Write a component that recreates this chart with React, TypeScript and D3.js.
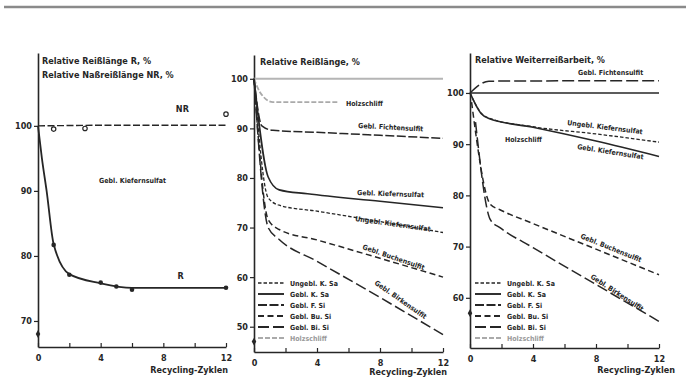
import React, { useEffect, useRef } from 'react'
import * as d3 from 'd3'

const FONT = "'Liberation Sans Narrow', 'DejaVu Sans Condensed', 'Liberation Sans', sans-serif"
const INK = '#262626'

// ---------- panel 1: Relative Reißlänge / Naßreißlänge (Gebl. Kiefernsulfat) ----------
const p1RX = [0, 0.25, 0.55, 1, 2, 4, 6, 12]
const p1RY = [100, 95, 90, 81.8, 77.2, 75.8, 75.1, 75.1]
const p1RMarkX = [1, 2, 4, 5, 6, 12]
const p1RMarkY = [81.7, 77.1, 75.9, 75.3, 74.8, 75.1]
const p1NRX = [0, 4, 8, 12]
const p1NRY = [100, 100.1, 100.1, 100.1]
const p1NRMarkX = [1, 3, 12]
const p1NRMarkY = [99.5, 99.6, 101.8]

// ---------- panel 2: Relative Reißlänge ----------
const p2HolzX = [0, 0.4, 1.2, 5.4]
const p2HolzY = [100, 97.2, 95.3, 95.3]
const p2FichtX = [0, 0.5, 1.2, 4, 8, 12]
const p2FichtY = [100, 90.5, 89.6, 89.2, 88.6, 88]
const p2KiefX = [0, 0.9, 1.6, 3.4, 8, 12]
const p2KiefY = [100, 80.2, 77.6, 76.8, 75.3, 74]
const p2UngX = [0, 0.9, 1.6, 4, 8, 12]
const p2UngY = [100, 76, 74.5, 73.3, 71.2, 69]
const p2BuchX = [0, 0.9, 1.6, 4, 8, 12]
const p2BuchY = [100, 71.6, 69.6, 67.5, 63.8, 60]
const p2BirkX = [0, 0.9, 1.6, 4, 8, 12]
const p2BirkY = [100, 70, 67.6, 63.2, 55.9, 48.4]

// ---------- panel 3: Relative Weiterreißarbeit ----------
const p3FichtX = [0, 0.6, 1.2, 12]
const p3FichtY = [100, 101.6, 102.3, 102.4]
const p3UngX = [0, 0.7, 1.2, 4, 8, 12]
const p3UngY = [100, 96.1, 95.1, 93.4, 92, 90.4]
const p3KiefX = [0, 0.7, 1.2, 4, 8, 12]
const p3KiefY = [100, 96, 95, 93.3, 90.6, 87.6]
const p3BuchX = [0.1, 1.3, 1.9, 4, 8, 12]
const p3BuchY = [98.2, 78.2, 77.2, 74.5, 69.5, 64.5]
const p3BirkX = [0.35, 1.3, 1.9, 4, 8, 12]
const p3BirkY = [94.3, 75.2, 73.7, 69.8, 62.6, 55.4]

const xTicks = [0, 2, 4, 6, 8, 10, 12]
const legendLabels = ['Ungebl. K. Sa', 'Gebl. K. Sa', 'Gebl. F. Si', 'Gebl. Bu. Si', 'Gebl. Bi. Si', 'Holzschliff']

const STYLES = {
  ung: { dash: '3.5,2', color: INK, width: 1.3 },
  kief: { dash: null, color: INK, width: 1.6 },
  ficht: { dash: '9,2.5', color: INK, width: 1.5 },
  buch: { dash: '6,3.5', color: INK, width: 1.5 },
  birk: { dash: '11,4', color: INK, width: 1.5 },
  holz: { dash: '5,2', color: '#aaa', width: 1.8 },
}
const legendStyles = [STYLES.ung, STYLES.kief, STYLES.ficht, STYLES.buch, STYLES.birk, STYLES.holz]

const zip = (xs, ys) => xs.map((x, i) => [x, ys[i]])

const Axes = ({ x, y, yTicks }) => {
  const xRef = useRef()
  const yRef = useRef()
  useEffect(() => {
    const style = g => {
      g.attr('font-family', FONT).attr('font-size', 9).attr('font-weight', 'bold')
      g.selectAll('text').attr('fill', INK)
      g.selectAll('line').attr('stroke', INK).attr('stroke-width', 1.2)
      g.select('.domain').attr('stroke', INK).attr('stroke-width', 1.6)
    }
    d3.select(xRef.current)
      .call(d3.axisBottom(x).tickValues(xTicks).tickFormat(d => (d % 4 === 0 ? d : ''))
        .tickSizeInner(-4).tickSizeOuter(0).tickPadding(8))
      .call(style)
    d3.select(yRef.current)
      .call(d3.axisLeft(y).tickValues(yTicks).tickSizeInner(4).tickSizeOuter(0).tickPadding(2))
      .call(style)
  }, [x, y, yTicks])
  return (
    <g>
      <g ref={xRef} transform={`translate(0,${y.range()[0]})`} />
      <g ref={yRef} transform={`translate(${x.range()[0]},0)`} />
    </g>
  )
}

const Label = ({ x, y, text, rot = 0, size = 7.5, anchor = 'start', color = INK }) => (
  <text x={x} y={y} transform={rot ? `rotate(${rot},${x},${y})` : undefined} textAnchor={anchor}
    fontFamily={FONT} fontWeight="bold" fontSize={size} fill={color}>{text}</text>
)

const Legend = ({ x, y }) => (
  <g>
    {legendLabels.map((l, i) => {
      const s = legendStyles[i]
      const yy = y + i * 11
      return (
        <g key={l}>
          <line x1={x} x2={x + 26} y1={yy} y2={yy} stroke={s.color} strokeWidth={s.width + 0.3}
            strokeDasharray={s.dash === null ? undefined : s.dash} />
          <Label x={x + 32} y={yy + 2.5} text={l} size={7} color={i === 5 ? '#999' : INK} />
        </g>
      )
    })}
  </g>
)

const Curve = ({ x, y, xs, ys, s, curve = d3.curveMonotoneX }) => {
  const path = d3.line().x(d => x(d[0])).y(d => y(d[1])).curve(curve)(zip(xs, ys))
  return <path d={path} fill="none" stroke={s.color} strokeWidth={s.width}
    strokeDasharray={s.dash === null ? undefined : s.dash} />
}

const BreakMark = ({ x, y, v }) => {
  const cx = x(0), cy = y(v)
  return <path d={d3.symbol(d3.symbolDiamond, 18)()} transform={`translate(${cx},${cy})`} fill={INK} />
}

const Panel1 = () => {
  const x = d3.scaleLinear().domain([0, 12]).range([38, 226])
  const y = d3.scaleLinear().domain([66, 111.2]).range([347, 53])
  return (
    <g>
      <Axes x={x} y={y} yTicks={[70, 80, 90, 100]} />
      <Label x={42} y={64} text="Relative Reißlänge R, %" size={9} />
      <Label x={42} y={78} text="Relative Naßreißlänge NR, %" size={9} />
      <Curve x={x} y={y} xs={p1NRX} ys={p1NRY} s={{ dash: '7,2.5', color: INK, width: 1.4 }} curve={d3.curveLinear} />
      <Curve x={x} y={y} xs={p1RX} ys={p1RY} s={{ dash: null, color: INK, width: 1.8 }} />
      {p1RMarkX.map((v, i) => (
        <circle key={i} cx={x(v)} cy={y(p1RMarkY[i])} r={2.3} fill={INK} />
      ))}
      {p1NRMarkX.map((v, i) => (
        <circle key={i} cx={x(v)} cy={y(p1NRMarkY[i])} r={2.2} fill="#fff" stroke={INK} strokeWidth={1.2} />
      ))}
      <BreakMark x={x} y={y} v={68} />
      <Label x={x(8.8)} y={y(102.2)} text="NR" size={9} />
      <Label x={x(8.9)} y={y(76.4)} text="R" size={9} />
      <Label x={x(3.9)} y={y(91.2)} text="Gebl. Kiefernsulfat" size={7} />
      <Label x={x(12) + 2} y={373} text="Recycling-Zyklen" size={9} anchor="end" />
    </g>
  )
}

const Panel2 = () => {
  const x = d3.scaleLinear().domain([0, 12]).range([254, 443])
  const y = d3.scaleLinear().domain([44.9, 104.8]).range([352, 55])
  return (
    <g>
      <Axes x={x} y={y} yTicks={[50, 60, 70, 80, 90, 100]} />
      <Label x={260} y={65} text="Relative Reißlänge, %" size={9} />
      <line x1={x(0)} x2={x(12)} y1={y(100)} y2={y(100)} stroke="#b5b5b5" strokeWidth={2} />
      <Curve x={x} y={y} xs={p2HolzX} ys={p2HolzY} s={STYLES.holz} />
      <Curve x={x} y={y} xs={p2FichtX} ys={p2FichtY} s={STYLES.ficht} />
      <Curve x={x} y={y} xs={p2KiefX} ys={p2KiefY} s={STYLES.kief} />
      <Curve x={x} y={y} xs={p2UngX} ys={p2UngY} s={STYLES.ung} />
      <Curve x={x} y={y} xs={p2BuchX} ys={p2BuchY} s={STYLES.buch} />
      <Curve x={x} y={y} xs={p2BirkX} ys={p2BirkY} s={STYLES.birk} />
      <BreakMark x={x} y={y} v={47} />
      <Label x={346} y={106} text="Holzschliff" size={7} />
      <Label x={358} y={128} text="Gebl. Fichtensulfit" size={7} rot={3} />
      <Label x={357} y={195} text="Gebl. Kiefernsulfat" size={7} rot={2} />
      <Label x={355} y={221} text="Ungebl. Kiefernsulfat" size={7} rot={8} />
      <Label x={362} y={249} text="Gebl. Buchensulfit" size={7} rot={19} />
      <Label x={374} y={284} text="Gebl. Birkensulfit" size={7} rot={35} />
      <Legend x={258} y={283} />
      <Label x={x(12) + 4} y={375} text="Recycling-Zyklen" size={9} anchor="end" />
    </g>
  )
}

const Panel3 = () => {
  const x = d3.scaleLinear().domain([0, 12]).range([470, 659])
  const y = d3.scaleLinear().domain([50.2, 107.8]).range([348, 53])
  return (
    <g>
      <Axes x={x} y={y} yTicks={[60, 70, 80, 90, 100]} />
      <Label x={475} y={63} text="Relative Weiterreißarbeit, %" size={9} />
      <line x1={x(0)} x2={x(12)} y1={y(100)} y2={y(100)} stroke={INK} strokeWidth={1.6} />
      <Curve x={x} y={y} xs={p3FichtX} ys={p3FichtY} s={{ ...STYLES.ficht, dash: '12,4' }} />
      <Curve x={x} y={y} xs={p3UngX} ys={p3UngY} s={STYLES.ung} />
      <Curve x={x} y={y} xs={p3KiefX} ys={p3KiefY} s={STYLES.kief} />
      <Curve x={x} y={y} xs={p3BuchX} ys={p3BuchY} s={STYLES.buch} />
      <Curve x={x} y={y} xs={p3BirkX} ys={p3BirkY} s={STYLES.birk} />
      <BreakMark x={x} y={y} v={57} />
      <Label x={578} y={75} text="Gebl. Fichtensulfit" size={7} />
      <Label x={567} y={125} text="Ungebl. Kiefernsulfat" size={7} rot={7} />
      <Label x={577} y={149} text="Gebl. Kiefernsulfat" size={7} rot={9} />
      <Label x={505} y={142} text="Holzschliff" size={7} />
      <Label x={580} y={238} text="Gebl. Buchensulfit" size={7} rot={22} />
      <Label x={590} y={278} text="Gebl. Birkensulfit" size={7} rot={33} />
      <Legend x={475} y={283} />
      <Label x={675} y={373} text="Recycling-Zyklen" size={9} anchor="end" />
    </g>
  )
}

const App = () => (
  <svg width={690} height={383} style={{ position: 'absolute', left: 0, top: 0, background: '#fff' }}>
    <line x1={4} x2={686} y1={7} y2={7} stroke="#8a8a8a" strokeWidth={2.5} />
    <Panel1 />
    <Panel2 />
    <Panel3 />
  </svg>
)

export default App
